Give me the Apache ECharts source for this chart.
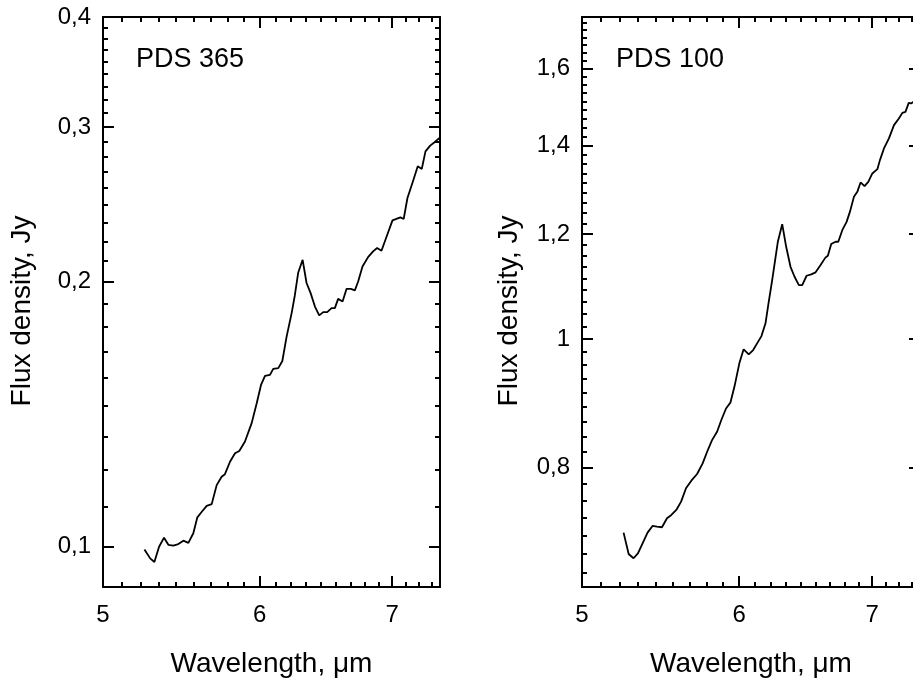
<!DOCTYPE html>
<html>
<head>
<meta charset="utf-8">
<script src="https://cdn.jsdelivr.net/npm/echarts@6/dist/echarts.min.js"></script>
<style>
html, body { margin: 0; padding: 0; background: #fff; }
#chart { width: 913px; height: 682px; }
</style>
</head>
<body>
<div id="chart"></div>
<script>
// PDS 365 spectrum
var wl365 = [5.247, 5.282, 5.308, 5.337, 5.368, 5.395, 5.426, 5.458, 5.490, 5.522,
    5.554, 5.580, 5.609, 5.641, 5.674, 5.707, 5.740, 5.762, 5.796, 5.830,
    5.859, 5.898, 5.944, 5.979, 6.009, 6.037, 6.072, 6.095, 6.131, 6.160,
    6.191, 6.227, 6.250, 6.275, 6.307, 6.336, 6.366, 6.398, 6.430, 6.460,
    6.490, 6.523, 6.548, 6.573, 6.607, 6.638, 6.671, 6.702, 6.728, 6.762,
    6.806, 6.846, 6.878, 6.913, 6.953, 7.002, 7.034, 7.067, 7.094, 7.125,
    7.171, 7.211, 7.245, 7.276, 7.316, 7.353, 7.396];
var flux365 = [0.0993, 0.0970, 0.0961, 0.1000, 0.1024, 0.1005, 0.1003, 0.1007, 0.1016, 0.1010,
    0.1036, 0.1080, 0.1096, 0.1113, 0.1118, 0.1175, 0.1201, 0.1209, 0.1249, 0.1277,
    0.1285, 0.1317, 0.1382, 0.1456, 0.1527, 0.1564, 0.1568, 0.1593, 0.1596, 0.1626,
    0.1734, 0.1843, 0.1930, 0.2050, 0.2119, 0.1994, 0.1942, 0.1875, 0.1832, 0.1848,
    0.1848, 0.1867, 0.1867, 0.1913, 0.1900, 0.1964, 0.1964, 0.1956, 0.2002, 0.2082,
    0.2134, 0.2166, 0.2185, 0.2170, 0.2249, 0.2349, 0.2358, 0.2368, 0.2358, 0.2491,
    0.2602, 0.2706, 0.2688, 0.2814, 0.2857, 0.2882, 0.2915];

// PDS 100 spectrum
var wl100 = [5.247, 5.278, 5.308, 5.335, 5.364, 5.395, 5.426, 5.454, 5.486, 5.518,
    5.546, 5.578, 5.609, 5.641, 5.676, 5.714, 5.751, 5.781, 5.814, 5.848,
    5.877, 5.909, 5.939, 5.968, 6.001, 6.031, 6.067, 6.098, 6.126, 6.157,
    6.186, 6.205, 6.234, 6.275, 6.307, 6.336, 6.368, 6.398, 6.430, 6.455,
    6.488, 6.523, 6.556, 6.594, 6.632, 6.650, 6.676, 6.710, 6.731, 6.762,
    6.796, 6.822, 6.854, 6.881, 6.907, 6.939, 6.969, 7.002, 7.043, 7.064,
    7.097, 7.138, 7.180, 7.221, 7.250, 7.276, 7.304, 7.324, 7.344, 7.390];
var flux100 = [0.7144, 0.6884, 0.6833, 0.6892, 0.7013, 0.7144, 0.7227, 0.7219, 0.7211, 0.7325,
    0.7367, 0.7431, 0.7539, 0.7717, 0.7819, 0.7910, 0.8058, 0.8222, 0.8390, 0.8513,
    0.8688, 0.8864, 0.8954, 0.9216, 0.9587, 0.9823, 0.9738, 0.9811, 0.9926, 1.0052,
    1.0277, 1.0600, 1.1079, 1.1842, 1.2210, 1.1739, 1.1338, 1.1143, 1.0983, 1.0983,
    1.1163, 1.1190, 1.1229, 1.1372, 1.1525, 1.1557, 1.1795, 1.1842, 1.1842, 1.2083,
    1.2258, 1.2473, 1.2803, 1.2915, 1.3128, 1.3044, 1.3141, 1.3334, 1.3435, 1.3647,
    1.3927, 1.4171, 1.4502, 1.4672, 1.4815, 1.4841, 1.5075, 1.5059, 1.5101, 1.5200];

// axis ranges and tick labels
var xRange = [5, 7.4];
var xTicks = [5, 6, 7];
var yRange365 = [0.09, 0.4];
var yTicks365 = [0.1, 0.2, 0.3, 0.4];
var yRange100 = [0.65, 1.75];
var yTicks100 = [0.8, 1, 1.2, 1.4, 1.6];

var font = 'Liberation Sans, Arial, Helvetica, sans-serif';

// the original plot puts 8 minor ticks between every pair of labelled ticks
function minorTicks(from, to, step, range) {
    var out = [];
    for (var v = from; v < to - 1e-9; v += step) {
        for (var k = 1; k < 9; k++) {
            var t = +(v + k * step / 9).toFixed(5);
            if (t > range[0] && t < range[1]) out.push(t);
        }
    }
    return out;
}

function comma(v) {
    return String(+v.toFixed(3)).replace('.', ',');
}

// one side of a frame: major ticks (+ labels) and a twin axis for the minor ticks
function sideAxes(grid, pos, range, major, minor, labels, name, nameGap) {
    var base = {
        type: 'log',
        logBase: 10,
        gridIndex: grid,
        position: pos,
        min: range[0],
        max: range[1],
        splitLine: { show: false },
        minorTick: { show: false },
        axisPointer: { show: false }
    };
    var main = echarts.util.merge({
        axisLine: { show: true, onZero: false, lineStyle: { color: '#000', width: 2 } },
        axisTick: { show: true, inside: true, length: 11, customValues: major,
            lineStyle: { color: '#000', width: 2 } },
        axisLabel: { show: labels, customValues: major, formatter: comma,
            margin: (pos == 'bottom' ? 16 : 12), fontSize: 24, color: '#000', fontFamily: font }
    }, base, true);
    if (name) {
        main.name = name;
        main.nameLocation = 'middle';
        main.nameGap = nameGap;
        main.nameTextStyle = { fontSize: 28, color: '#000', fontFamily: font };
        if (pos == 'left') main.nameTextStyle.padding = [0, 18, 0, 0];
    }
    var small = echarts.util.merge({
        axisLine: { show: false },
        axisTick: { show: true, inside: true, length: 5, customValues: minor,
            lineStyle: { color: '#000', width: 2 } },
        axisLabel: { show: false }
    }, base, true);
    return [main, small];
}

var xMinor = minorTicks(5, 8, 1, xRange);
var yMinor365 = minorTicks(0.1, 0.4, 0.1, yRange365);
var yMinor100 = minorTicks(0.6, 1.8, 0.2, yRange100);

var xAxes = [].concat(
    sideAxes(0, 'bottom', xRange, xTicks, xMinor, true, 'Wavelength, \u03bcm', 63),
    sideAxes(0, 'top', xRange, xTicks, xMinor, false),
    sideAxes(1, 'bottom', xRange, xTicks, xMinor, true, 'Wavelength, \u03bcm', 63),
    sideAxes(1, 'top', xRange, xTicks, xMinor, false)
);
var yAxes = [].concat(
    sideAxes(0, 'left', yRange365, yTicks365, yMinor365, true, 'Flux density, Jy', 67),
    sideAxes(0, 'right', yRange365, yTicks365, yMinor365, false),
    sideAxes(1, 'left', yRange100, yTicks100, yMinor100, true, 'Flux density, Jy', 59),
    sideAxes(1, 'right', yRange100, yTicks100, yMinor100, false)
);

function pairs(xs, ys) {
    var out = [];
    for (var i = 0; i < xs.length; i++) out.push([xs[i], ys[i]]);
    return out;
}

var chart = echarts.init(document.getElementById('chart'), null, { renderer: 'canvas' });
var option = {
    animation: false,
    backgroundColor: '#fff',
    title: [
        { text: 'PDS 365', left: 136, top: 46, padding: 0,
            textStyle: { fontSize: 27, fontWeight: 'normal', color: '#000', fontFamily: font } },
        { text: 'PDS 100', left: 616, top: 46, padding: 0,
            textStyle: { fontSize: 27, fontWeight: 'normal', color: '#000', fontFamily: font } }
    ],
    // the right frame runs past the page edge in the original, so no fitting
    grid: [
        { left: 103, top: 17, width: 337, height: 570, containLabel: false, outerBoundsMode: 'none' },
        { left: 582, top: 17, width: 338, height: 570, containLabel: false, outerBoundsMode: 'none' }
    ],
    xAxis: xAxes,
    yAxis: yAxes,
    series: [
        {
            name: 'PDS 365',
            type: 'line',
            xAxisIndex: 0,
            yAxisIndex: 0,
            data: pairs(wl365, flux365),
            showSymbol: false,
            lineStyle: { color: '#000', width: 1.8 }
        },
        {
            name: 'PDS 100',
            type: 'line',
            xAxisIndex: 4,
            yAxisIndex: 4,
            data: pairs(wl100, flux100),
            showSymbol: false,
            lineStyle: { color: '#000', width: 1.8 }
        }
    ]
};
chart.setOption(option);
</script>
</body>
</html>
